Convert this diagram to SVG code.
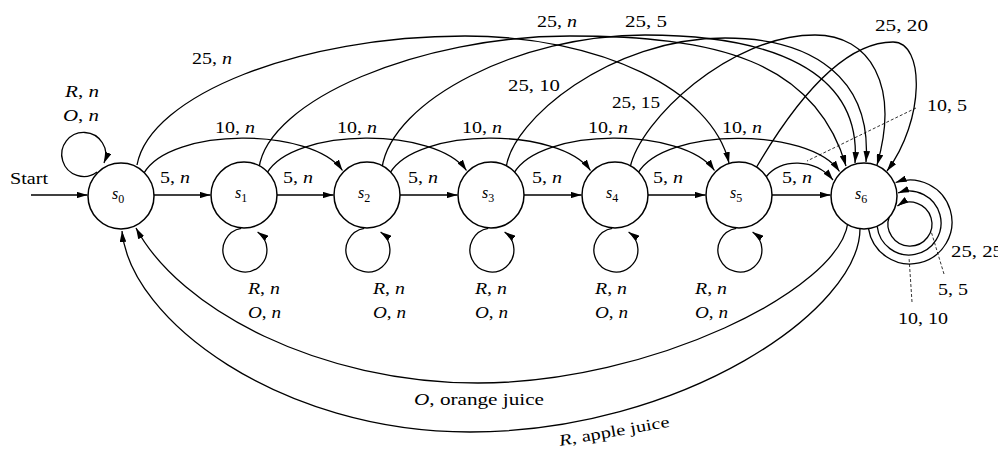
<svg xmlns="http://www.w3.org/2000/svg" width="998" height="451" viewBox="0 0 998 451">
<defs>
<marker id="ah" viewBox="0 0 10 6" refX="10" refY="3" markerWidth="11" markerHeight="6.6" markerUnits="userSpaceOnUse" orient="auto">
<path d="M0,0 L10,3 L0,6 z" fill="#000"/>
</marker>
</defs>
<style>
.t{font-family:"Liberation Serif",serif;font-size:16px;fill:#000}
.i{font-style:italic}
.e{fill:none;stroke:#000;stroke-width:1.3;marker-end:url(#ah)}
.d{fill:none;stroke:#000;stroke-width:0.8;stroke-dasharray:3 2}
.st{fill:#fff;stroke:#000;stroke-width:1.5}
.sub{font-style:normal;font-size:12px}
</style>
<rect width="998" height="451" fill="#fff"/>
<g id="connectors">
<path class="e" d="M31,195 L87.5,195"/>
<path class="e" d="M97,172 A22 22 0 1 1 104,163"/>
<path class="e" d="M154,195 L210.5,195"/>
<path class="e" d="M277,195 L333.5,195"/>
<path class="e" d="M400,195 L457.5,195"/>
<path class="e" d="M524,195 L581.5,195"/>
<path class="e" d="M648,195 L705.5,195"/>
<path class="e" d="M772,195 L830.5,195"/>
<path class="e" d="M144,173 C171,127 312,127 342.5,170.5"/>
<path class="e" d="M267,173 C294,127 436,127 466.5,170.5"/>
<path class="e" d="M390,173 C417,127 560,127 590.5,170.5"/>
<path class="e" d="M514,173 C541,127 684,127 714.5,170.5"/>
<path class="e" d="M638,173 C665,127 809,127 839.5,171.5"/>
<path class="e" d="M766,177 C780,158 815,158 833,180"/>
<path class="e" d="M137,165 C150,95 300,36 465,36 C600,36 712,90 729,163"/>
<path class="e" d="M259,168 C268,100 420,36 570,36 C715,36 815,60 846,166"/>
<path class="e" d="M382,168 C392,100 520,35 645,35 C770,35 862,70 855,163"/>
<path class="e" d="M506,168 C512,120 610,38 725,38 C815,38 872,80 866,162"/>
<path class="e" d="M630,168 C640,120 730,35 815,35 C870,35 900,85 877,165"/>
<path class="e" d="M756,168 C790,110 840,42 893,42 C925,42 925,120 887,171"/>
<path class="e" d="M241.2,228.3 A22 22 0 1 0 257.6,232"/>
<path class="e" d="M364.2,228.3 A22 22 0 1 0 380.6,232"/>
<path class="e" d="M488.2,228.3 A22 22 0 1 0 504.6,232"/>
<path class="e" d="M612.2,228.3 A22 22 0 1 0 628.6,232"/>
<path class="e" d="M736.2,228.3 A22 22 0 1 0 752.6,232"/>
<path class="e" d="M868.5,228.6 A42 42 0 1 0 895.6,182.5"/>
<path class="e" d="M877.2,226.3 A32 32 0 1 0 898.1,192.9"/>
<path class="e" d="M889.3,216.5 A22 22 0 1 0 897.4,206"/>
<path class="e" d="M848,222 C840,290 650,383 478,383 C320,383 180,310 136,228"/>
<path class="e" d="M860,227 C862,310 680,432 470,432 C280,432 130,320 122,231"/>
<path class="d" d="M916,108 L807,161"/>
<path class="d" d="M944,274 L931,231"/>
<path class="d" d="M912,302 L909,257"/>
</g>
<g id="nodes">
<g id="s0"><circle class="st" cx="121" cy="196" r="33"/><text class="t i" x="112" y="199">s<tspan class="sub" dy="4">0</tspan></text></g>
<g id="s1"><circle class="st" cx="244" cy="195" r="33"/><text class="t i" x="235" y="198">s<tspan class="sub" dy="4">1</tspan></text></g>
<g id="s2"><circle class="st" cx="367" cy="195" r="33"/><text class="t i" x="358" y="198">s<tspan class="sub" dy="4">2</tspan></text></g>
<g id="s3"><circle class="st" cx="491" cy="195" r="33"/><text class="t i" x="482" y="198">s<tspan class="sub" dy="4">3</tspan></text></g>
<g id="s4"><circle class="st" cx="615" cy="195" r="33"/><text class="t i" x="606" y="198">s<tspan class="sub" dy="4">4</tspan></text></g>
<g id="s5"><circle class="st" cx="739" cy="195" r="33"/><text class="t i" x="730" y="198">s<tspan class="sub" dy="4">5</tspan></text></g>
<g id="s6"><circle class="st" cx="864" cy="196" r="33"/><text class="t i" x="855" y="199">s<tspan class="sub" dy="4">6</tspan></text></g>
</g>
<g id="labels" class="t">
<text x="10" y="184" textLength="38" lengthAdjust="spacingAndGlyphs">Start</text>
<text x="65" y="97" textLength="34" lengthAdjust="spacingAndGlyphs"><tspan class="i">R</tspan>, <tspan class="i">n</tspan></text>
<text x="63" y="121" textLength="36" lengthAdjust="spacingAndGlyphs"><tspan class="i">O</tspan>, <tspan class="i">n</tspan></text>
<text x="215" y="133" textLength="40" lengthAdjust="spacingAndGlyphs">10, <tspan class="i">n</tspan></text>
<text x="337" y="133" textLength="40" lengthAdjust="spacingAndGlyphs">10, <tspan class="i">n</tspan></text>
<text x="462" y="133" textLength="40" lengthAdjust="spacingAndGlyphs">10, <tspan class="i">n</tspan></text>
<text x="588" y="133" textLength="40" lengthAdjust="spacingAndGlyphs">10, <tspan class="i">n</tspan></text>
<text x="722" y="133" textLength="40" lengthAdjust="spacingAndGlyphs">10, <tspan class="i">n</tspan></text>
<text x="160" y="183" textLength="30" lengthAdjust="spacingAndGlyphs">5, <tspan class="i">n</tspan></text>
<text x="283" y="183" textLength="30" lengthAdjust="spacingAndGlyphs">5, <tspan class="i">n</tspan></text>
<text x="408" y="183" textLength="30" lengthAdjust="spacingAndGlyphs">5, <tspan class="i">n</tspan></text>
<text x="532" y="183" textLength="30" lengthAdjust="spacingAndGlyphs">5, <tspan class="i">n</tspan></text>
<text x="653" y="183" textLength="30" lengthAdjust="spacingAndGlyphs">5, <tspan class="i">n</tspan></text>
<text x="782" y="183" textLength="30" lengthAdjust="spacingAndGlyphs">5, <tspan class="i">n</tspan></text>
<text x="248" y="294" textLength="32" lengthAdjust="spacingAndGlyphs"><tspan class="i">R</tspan>, <tspan class="i">n</tspan></text>
<text x="373" y="294" textLength="32" lengthAdjust="spacingAndGlyphs"><tspan class="i">R</tspan>, <tspan class="i">n</tspan></text>
<text x="475" y="294" textLength="32" lengthAdjust="spacingAndGlyphs"><tspan class="i">R</tspan>, <tspan class="i">n</tspan></text>
<text x="595" y="294" textLength="32" lengthAdjust="spacingAndGlyphs"><tspan class="i">R</tspan>, <tspan class="i">n</tspan></text>
<text x="695" y="294" textLength="32" lengthAdjust="spacingAndGlyphs"><tspan class="i">R</tspan>, <tspan class="i">n</tspan></text>
<text x="248" y="318" textLength="33" lengthAdjust="spacingAndGlyphs"><tspan class="i">O</tspan>, <tspan class="i">n</tspan></text>
<text x="373" y="318" textLength="33" lengthAdjust="spacingAndGlyphs"><tspan class="i">O</tspan>, <tspan class="i">n</tspan></text>
<text x="475" y="318" textLength="33" lengthAdjust="spacingAndGlyphs"><tspan class="i">O</tspan>, <tspan class="i">n</tspan></text>
<text x="595" y="318" textLength="33" lengthAdjust="spacingAndGlyphs"><tspan class="i">O</tspan>, <tspan class="i">n</tspan></text>
<text x="695" y="318" textLength="33" lengthAdjust="spacingAndGlyphs"><tspan class="i">O</tspan>, <tspan class="i">n</tspan></text>
<text x="192" y="64" textLength="40" lengthAdjust="spacingAndGlyphs">25, <tspan class="i">n</tspan></text>
<text x="537" y="27" textLength="40" lengthAdjust="spacingAndGlyphs">25, <tspan class="i">n</tspan></text>
<text x="625" y="27" textLength="42" lengthAdjust="spacingAndGlyphs">25, 5</text>
<text x="508" y="91" textLength="52" lengthAdjust="spacingAndGlyphs">25, 10</text>
<text x="612" y="108" textLength="48" lengthAdjust="spacingAndGlyphs">25, 15</text>
<text x="875" y="31" textLength="53" lengthAdjust="spacingAndGlyphs">25, 20</text>
<text x="927" y="111" textLength="40" lengthAdjust="spacingAndGlyphs">10, 5</text>
<text x="951" y="257" textLength="52" lengthAdjust="spacingAndGlyphs">25, 25</text>
<text x="938" y="295" textLength="30" lengthAdjust="spacingAndGlyphs">5, 5</text>
<text x="898" y="324" textLength="50" lengthAdjust="spacingAndGlyphs">10, 10</text>
<text x="414" y="405" textLength="130" lengthAdjust="spacingAndGlyphs"><tspan class="i">O</tspan>, orange juice</text>
<text x="560" y="446" transform="rotate(-10 560 446)" textLength="112" lengthAdjust="spacingAndGlyphs"><tspan class="i">R</tspan>, apple juice</text>
</g>
</svg>
